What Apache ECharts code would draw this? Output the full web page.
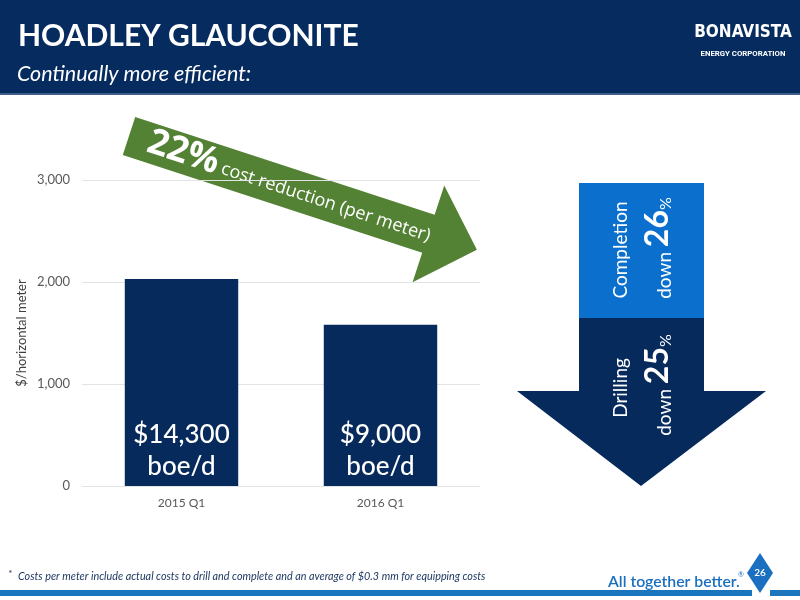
<!DOCTYPE html>
<html><head><meta charset="utf-8">
<script src="https://cdn.jsdelivr.net/npm/echarts@6/dist/echarts.min.js"></script>
<style>html,body{margin:0;padding:0;background:#fff}#c{width:800px;height:600px}</style>
</head><body><div id="c"></div>
<script>
var categories = ['2015 Q1', '2016 Q1'];
var costPerMeter = [2030, 1580];
var barLabels = ['$14,300\nboe/d', '$9,000\nboe/d'];
var yTicks = [0, 1000, 2000, 3000];

var NAVY = '#062a5c';
var FONT = 'Lato, "Open Sans", sans-serif';
var chart = echarts.init(document.getElementById('c'));
var ang = -18.1 * Math.PI / 180;

chart.setOption({
  backgroundColor: '#ffffff',
  animation: false,
  grid: { left: 82, right: 320, top: 180, bottom: 114 },
  xAxis: {
    type: 'category', data: categories,
    axisLine: { show: true, lineStyle: { color: '#e3e3e3', width: 1 } },
    axisTick: { show: false },
    axisLabel: { color: '#595959', fontSize: 12, margin: 11, fontFamily: FONT }
  },
  yAxis: {
    type: 'value', min: yTicks[0], max: yTicks[yTicks.length - 1], interval: 1000,
    name: '$/horizontal meter', nameLocation: 'middle', nameGap: 54,
    nameTextStyle: { color: '#404040', fontSize: 13, fontFamily: FONT },
    axisLine: { show: false }, axisTick: { show: false },
    splitLine: { lineStyle: { color: '#e3e3e3', width: 1 } },
    axisLabel: {
      color: '#595959', fontSize: 13, margin: 12, fontFamily: FONT,
      formatter: function (v) { return v === 0 ? '0' : v.toLocaleString('en-US'); }
    }
  },
  series: [{
    type: 'bar', data: costPerMeter, barWidth: '57%',
    itemStyle: { color: NAVY },
    label: {
      show: true, position: 'insideBottom', distance: 3,
      formatter: function (p) { return barLabels[p.dataIndex]; },
      color: '#ffffff', fontSize: 26, lineHeight: 32, fontWeight: 500, fontFamily: FONT
    }
  }],
  graphic: [
    // header
    { type: 'rect', shape: { x: 0, y: 0, width: 800, height: 93 }, style: { fill: '#062c5f' }, z: 0 },
    { type: 'rect', shape: { x: 0, y: 93, width: 800, height: 2 }, style: { fill: '#3e5f8e' }, z: 0 },
    { type: 'text', x: 18, y: 36, style: { text: 'HOADLEY GLAUCONITE', fill: '#fff', font: 'bold 30px ' + FONT, textVerticalAlign: 'middle' } },
    { type: 'text', x: 17, y: 74, style: { text: 'Continually more efficient:', fill: '#fff', font: 'italic 21.5px ' + FONT, textVerticalAlign: 'middle' } },
    { type: 'text', x: 743, y: 33, style: { text: 'BONAVISTA', fill: '#fff', font: 'bold 17px "DejaVu Sans Condensed", "DejaVu Sans", sans-serif', textAlign: 'center', textVerticalAlign: 'middle' } },
    { type: 'text', x: 743, y: 54, style: { text: 'ENERGY CORPORATION', fill: '#fff', font: 'bold 7.8px Roboto, sans-serif', textAlign: 'center', textVerticalAlign: 'middle' } },
    // green arrow
    {
      type: 'group', x: 129, y: 136, rotation: ang, z: 10,
      children: [
        { type: 'polygon', shape: { points: [[0, -20], [315, -20], [315, -51], [366, 0], [315, 51], [315, 20], [0, 20]] }, style: { fill: '#548235' } },
        { type: 'text', x: 20, y: -1, style: { text: '22%', fill: '#fff', font: 'bold 36px "Open Sans", sans-serif', textVerticalAlign: 'middle' } },
        { type: 'text', x: 98, y: 2, style: { text: 'cost reduction (per meter)', fill: '#fff', font: '18px "Open Sans", sans-serif', textVerticalAlign: 'middle' } }
      ]
    },
    // down arrow
    { type: 'rect', shape: { x: 579, y: 183, width: 125, height: 135 }, style: { fill: '#0b70cd' }, z: 5 },
    { type: 'polygon', shape: { points: [[579, 318], [704, 318], [704, 391], [766, 391], [641, 486], [517, 391], [579, 391]] }, style: { fill: NAVY }, z: 5 },
    { type: 'text', x: 621, y: 250, rotation: Math.PI / 2, z: 6, style: { text: 'Completion', fill: '#fff', font: '19px ' + FONT, textAlign: 'center', textVerticalAlign: 'middle' } },
    { type: 'text', x: 657, y: 248, rotation: Math.PI / 2, z: 6, style: {
      text: '{d|down }{n|26}{p|%}', fill: '#fff', textAlign: 'center', textVerticalAlign: 'middle',
      rich: {
        d: { fontSize: 19, fontFamily: FONT, fill: '#fff', verticalAlign: 'bottom', lineHeight: 34 },
        n: { fontSize: 32, fontWeight: 'bold', fontFamily: FONT, fill: '#fff', verticalAlign: 'bottom', lineHeight: 34 },
        p: { fontSize: 16, fontFamily: FONT, fill: '#fff', verticalAlign: 'bottom', lineHeight: 34 }
      } } },
    { type: 'text', x: 621, y: 388, rotation: Math.PI / 2, z: 6, style: { text: 'Drilling', fill: '#fff', font: '19px ' + FONT, textAlign: 'center', textVerticalAlign: 'middle' } },
    { type: 'text', x: 657, y: 385, rotation: Math.PI / 2, z: 6, style: {
      text: '{d|down }{n|25}{p|%}', fill: '#fff', textAlign: 'center', textVerticalAlign: 'middle',
      rich: {
        d: { fontSize: 19, fontFamily: FONT, fill: '#fff', verticalAlign: 'bottom', lineHeight: 34 },
        n: { fontSize: 32, fontWeight: 'bold', fontFamily: FONT, fill: '#fff', verticalAlign: 'bottom', lineHeight: 34 },
        p: { fontSize: 16, fontFamily: FONT, fill: '#fff', verticalAlign: 'bottom', lineHeight: 34 }
      } } },
    // footnote
    { type: 'text', x: 8, y: 574, style: { text: '*', fill: '#1f3864', font: 'italic 10px ' + FONT, textVerticalAlign: 'middle' } },
    { type: 'text', x: 18, y: 577, style: { text: 'Costs per meter include actual costs to drill and complete and an average of $0.3 mm for equipping costs', fill: '#1f3864', font: 'italic 10.8px ' + FONT, textVerticalAlign: 'middle' } },
    // bottom bar
    { type: 'rect', shape: { x: 0, y: 590, width: 752, height: 6 }, style: { fill: '#1b75bc' } },
    { type: 'rect', shape: { x: 770, y: 590, width: 30, height: 6 }, style: { fill: '#1b75bc' } },
    { type: 'text', x: 608, y: 582, style: { text: 'All together better.', fill: '#1a6fc0', font: '600 15.8px ' + FONT, textVerticalAlign: 'middle' } },
    { type: 'text', x: 738, y: 575, style: { text: '®', fill: '#1a6fc0', font: '7px ' + FONT, textVerticalAlign: 'middle' } },
    { type: 'polygon', shape: { points: [[760, 553], [773, 573], [760, 593], [747, 573]] }, style: { fill: '#1a6fc0' }, z: 5 },
    { type: 'text', x: 760, y: 573, z: 6, style: { text: '26', fill: '#fff', font: '600 10px ' + FONT, textAlign: 'center', textVerticalAlign: 'middle' } }
  ]
});
</script></body></html>
